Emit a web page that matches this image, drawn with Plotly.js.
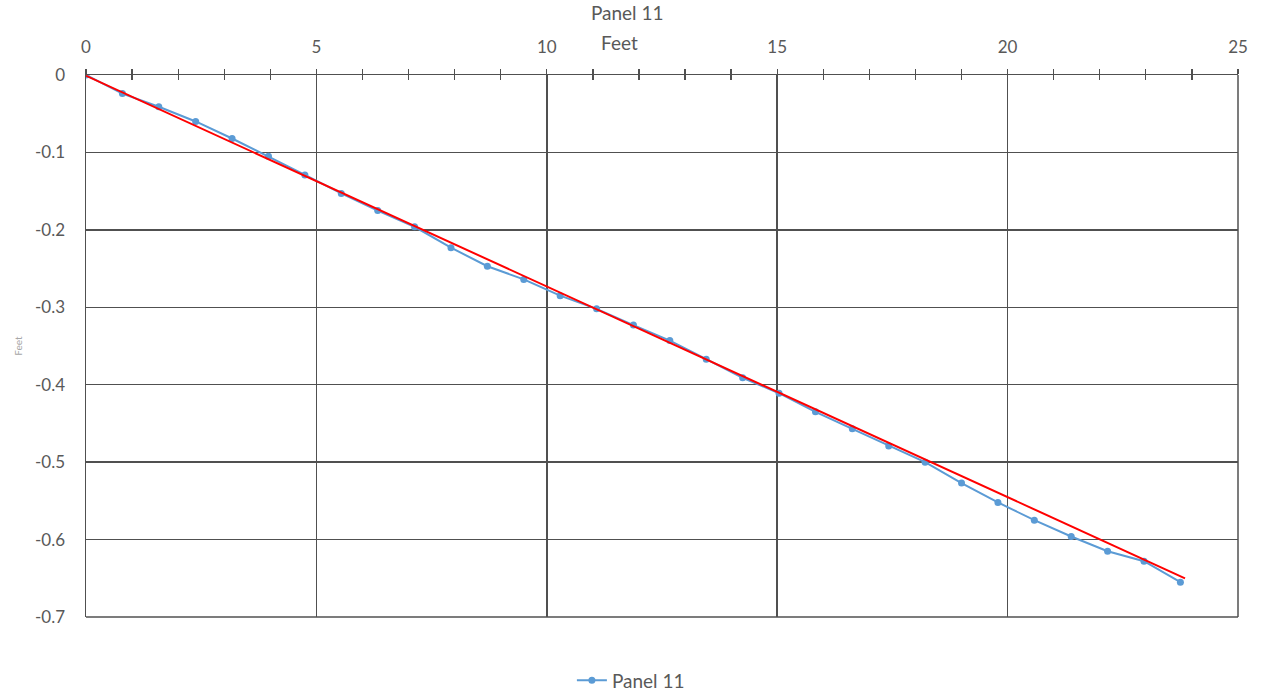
<!DOCTYPE html>
<html>
<head>
<meta charset="utf-8">
<script src="https://cdn.plot.ly/plotly-3.0.1.min.js"></script>
<style>html,body{margin:0;padding:0;background:#fff;}#chart{width:1262px;height:692px;}</style>
</head>
<body>
<div id="chart"></div>
<script>
// Panel 11 measured points (feet)
var panelX = [0, 0.79, 1.58, 2.38, 3.17, 3.96, 4.75, 5.54, 6.33, 7.13, 7.92, 8.71, 9.50, 10.29, 11.08, 11.88, 12.67, 13.46, 14.25, 15.04, 15.83, 16.63, 17.42, 18.21, 19.00, 19.79, 20.58, 21.38, 22.17, 22.96, 23.75];
var panelY = [0, -0.024, -0.041, -0.060, -0.082, -0.105, -0.129, -0.153, -0.175, -0.196, -0.223, -0.247, -0.264, -0.285, -0.302, -0.323, -0.343, -0.367, -0.391, -0.411, -0.435, -0.457, -0.479, -0.500, -0.527, -0.552, -0.575, -0.596, -0.615, -0.628, -0.655];
// Linear trend line endpoints
var trendX = [0, 23.85];
var trendY = [-0.001, -0.650];

// Tick labels
var xTickVals = [0, 5, 10, 15, 20, 25];
var xTickText = ['0', '5', '10', '15', '20', '25'];
var yTickVals = [0, -0.1, -0.2, -0.3, -0.4, -0.5, -0.6, -0.7];
var yTickText = ['0', '-0.1', '-0.2', '-0.3', '-0.4', '-0.5', '-0.6', '-0.7'];

var seriesName = 'Panel 11';
var chartTitle = 'Panel 11';
var xTitle = 'Feet';
var yTitle = 'Feet';

var gridColor = '#505050';
var labelColor = '#595959';
var fontFam = 'Lato, "Open Sans", sans-serif';

var data = [
  {x: panelX, y: panelY, type: 'scatter', mode: 'lines+markers', name: seriesName,
   line: {color: '#5B9BD5', width: 2}, marker: {color: '#5B9BD5', size: 7}, xaxis: 'x', yaxis: 'y'},
  {x: trendX, y: trendY, type: 'scatter', mode: 'lines', name: 'Linear', showlegend: false,
   line: {color: '#FF0000', width: 2}, xaxis: 'x', yaxis: 'y'}
];

var layout = {
  width: 1262, height: 692,
  margin: {l: 86, r: 24, t: 75, b: 75, autoexpand: false},
  paper_bgcolor: '#ffffff', plot_bgcolor: '#ffffff',
  font: {family: fontFam, color: labelColor, size: 17},
  title: {text: chartTitle, x: 0.497, xanchor: 'center', y: 0.98, yanchor: 'middle', font: {size: 19, color: labelColor}},
  showlegend: true,
  legend: {orientation: 'h', x: 0.473, xanchor: 'center', y: -0.117, yanchor: 'middle', font: {size: 19, color: labelColor}},
  xaxis: {
    side: 'top', range: [0, 25], tickmode: 'array', tickvals: xTickVals, ticktext: xTickText,
    showgrid: true, gridcolor: gridColor, gridwidth: 1.5,
    zeroline: false, showline: true, linecolor: gridColor, linewidth: 1.5, mirror: false,
    ticks: 'outside', ticklen: 5, tickcolor: gridColor, tickwidth: 1.3,
    minor: {dtick: 1, tick0: 0, ticks: 'outside', ticklen: 5, tickcolor: gridColor, tickwidth: 1.3, showgrid: false},
    tickfont: {size: 17, color: labelColor}, ticklabelstandoff: 9,
    fixedrange: true
  },
  xaxis2: {
    overlaying: 'x', side: 'top', range: [0, 25], dtick: 1, tick0: 0,
    showgrid: false, zeroline: false, showline: false, showticklabels: false,
    ticks: 'inside', ticklen: 5, tickcolor: gridColor, tickwidth: 1.3, matches: 'x'
  },
  yaxis: {
    range: [-0.7, 0], tickmode: 'array', tickvals: yTickVals, ticktext: yTickText,
    showgrid: true, gridcolor: gridColor, gridwidth: 1.5,
    zeroline: false, showline: true, linecolor: gridColor, linewidth: 1.5,
    ticks: '', tickfont: {size: 17, color: labelColor}, ticklabelstandoff: 16,
    title: {text: yTitle, font: {size: 10, color: '#A6A6A6'}, standoff: 10},
    fixedrange: true
  },
  annotations: [
    {text: xTitle, xref: 'paper', yref: 'paper', x: 0.463, y: 1.0, yshift: 33, xanchor: 'center', yanchor: 'middle',
     showarrow: false, font: {size: 19, color: labelColor}}
  ],
  shapes: [
    {type: 'line', xref: 'paper', yref: 'paper', x0: 1, x1: 1, y0: 0, y1: 1, line: {color: gridColor, width: 1.5}},
    {type: 'line', xref: 'paper', yref: 'paper', x0: 0, x1: 1, y0: 0, y1: 0, line: {color: gridColor, width: 1.5}}
  ]
};

// invisible trace to activate the overlaid tick axis
data.push({x: [0], y: [0], xaxis: 'x2', yaxis: 'y', mode: 'markers', marker: {opacity: 0}, showlegend: false, hoverinfo: 'skip'});

Plotly.newPlot('chart', data, layout, {displayModeBar: false, staticPlot: true});
</script>
</body>
</html>
